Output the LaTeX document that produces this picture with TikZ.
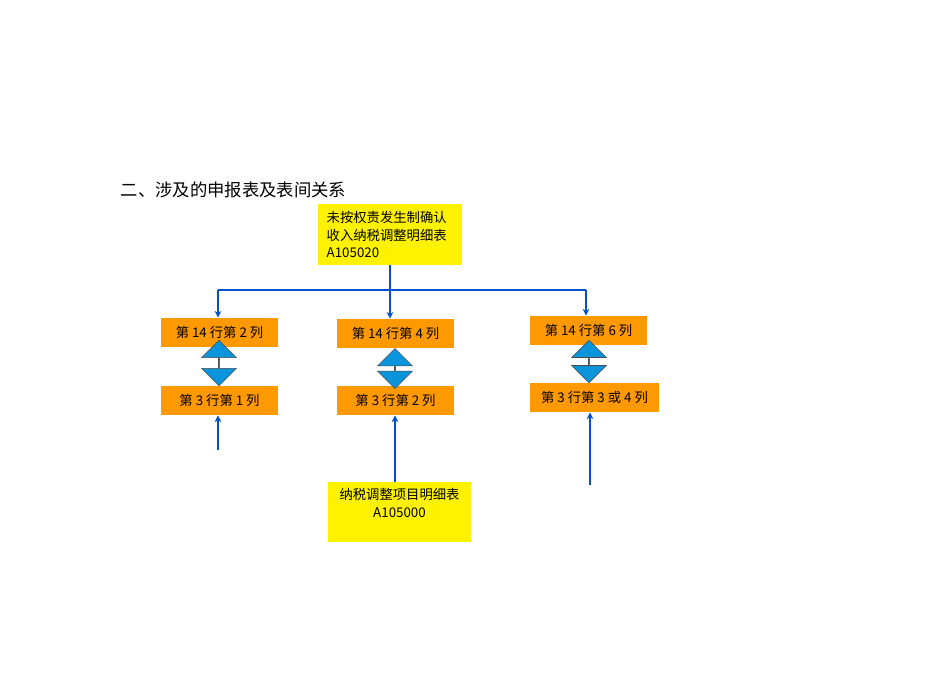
\documentclass[tikz,border=0pt]{standalone}
\usepackage{fontspec}
\setmainfont{Liberation Serif}
\newfontfamily\cjk{Noto Sans CJK SC}
\usetikzlibrary{shapes.arrows,arrows.meta}
\begin{document}
\begin{tikzpicture}[x=0.75pt,y=-0.75pt,
  ybox/.style={fill=yellow,draw=none,anchor=north west,inner sep=0pt},
  obox/.style={fill=orange!80!yellow,draw=none,inner sep=0pt},
  conn/.style={draw=blue!60!cyan!80!black,line width=1.3pt,-{Stealth[length=5pt,width=5pt]}},
  dbl/.style={fill=cyan!80!blue,draw=black!70,line width=0.4pt,double arrow,double arrow head extend=6.5pt,minimum width=26pt,inner sep=0pt,rotate=90},
  lab/.style={font=\cjk\fontsize{10}{13}\selectfont}]
\useasboundingbox (0,0) rectangle (950,672);
\node[anchor=west,font=\cjk\fontsize{13}{15}\selectfont] (title) at (116,190) {二、涉及的申报表及表间关系};
\fill[yellow] (318,204) rectangle (462,265);
\node[lab,anchor=north west,align=left] (top) at (322,207) {未按权责发生制确认\\收入纳税调整明细表\\A105020};
\coordinate (topb) at (390,265);
\fill[yellow] (328,482) rectangle (471,542);
\node[lab,align=center] (bot) at (399.5,503) {纳税调整项目明细表\\A105000};
\coordinate (botb) at (395,482);
\node[obox,minimum width=88pt,minimum height=22pt,lab] (a1) at (219.5,332.5) {第 14 行第 2 列};
\node[obox,minimum width=88pt,minimum height=22pt,lab] (b1) at (395.5,333.5) {第 14 行第 4 列};
\node[obox,minimum width=88pt,minimum height=22pt,lab] (c1) at (588.5,330.5) {第 14 行第 6 列};
\node[obox,minimum width=88pt,minimum height=22pt,lab] (a2) at (219.5,400.5) {第 3 行第 1 列};
\node[obox,minimum width=88pt,minimum height=22pt,lab] (b2) at (395.5,400.5) {第 3 行第 2 列};
\node[obox,minimum width=97pt,minimum height=22pt,lab] (c2) at (594.5,397.5) {第 3 行第 3 或 4 列};
\node[dbl,minimum height=34pt] (da) at (219,363) {};
\node[dbl,minimum height=30pt] (db) at (395,368.5) {};
\node[dbl,minimum height=32pt] (dc) at (589,361.5) {};
\coordinate (h) at (390,290);
\draw[line width=1.3pt,draw=blue!60!cyan!80!black] (218,290) -- (586,290);
\draw[conn,-] (topb) -- (h);
\draw[conn] (218,290) -- (a1.north-|218,0);
\draw[conn] (h) -- (b1.north-|390,0);
\draw[conn] (586,290) -- (c1.north-|586,0);
\coordinate (fa) at (218,450);
\coordinate (fc) at (590,485);
\draw[conn] (fa) -- (a2.south-|fa);
\draw[conn] (botb) -- (b2.south-|botb);
\draw[conn] (fc) -- (c2.south-|fc);
\end{tikzpicture}
\end{document}
